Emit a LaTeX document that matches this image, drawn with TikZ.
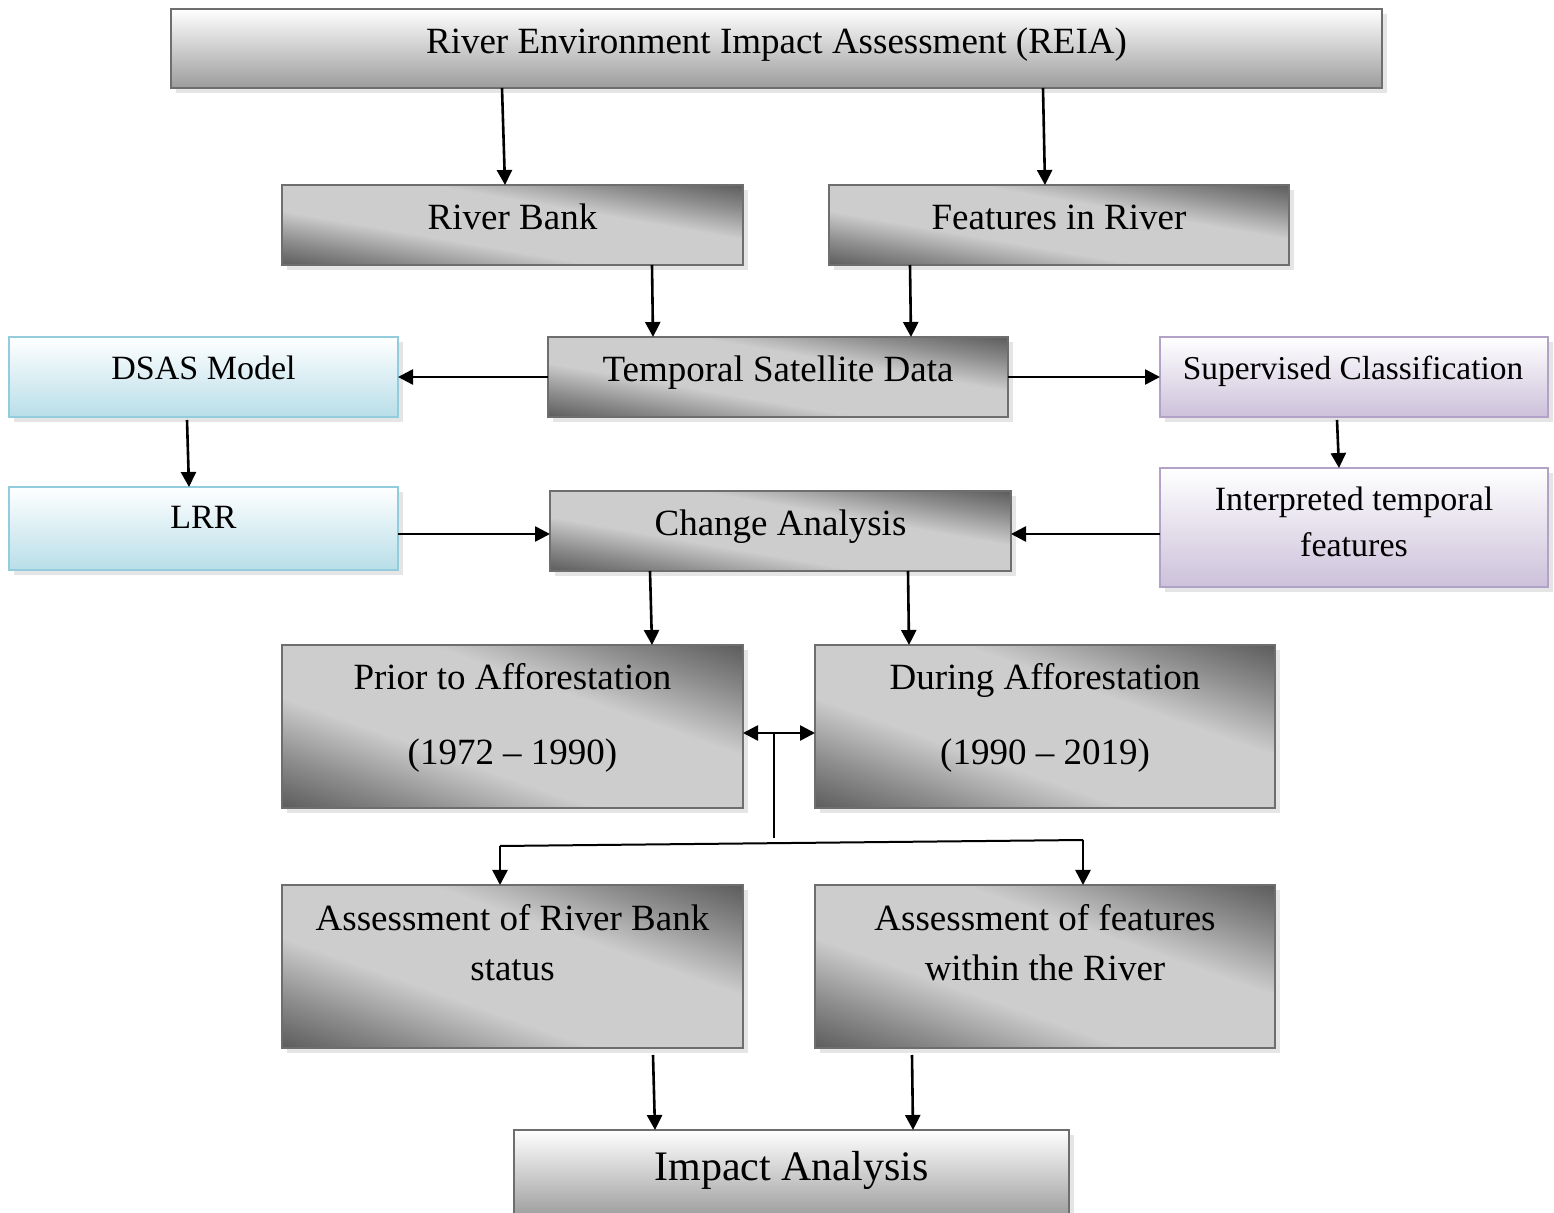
\documentclass[tikz,border=0pt]{standalone}
\usepackage{fontspec}
\setmainfont{Liberation Serif}
\usetikzlibrary{arrows.meta,shadows,calc}
\definecolor{gdark}{HTML}{5C5C5C}
\definecolor{gmid}{HTML}{8E8E8E}
\definecolor{glight}{HTML}{CDCDCD}
\definecolor{gborder}{HTML}{6E6E6E}
\definecolor{lbottom}{HTML}{9C9C9C}
\definecolor{bborder}{HTML}{93CDDD}
\definecolor{bbottom}{HTML}{B8DEE8}
\definecolor{pborder}{HTML}{B3A2C7}
\definecolor{pbottom}{HTML}{CCC1DA}
\pgfdeclarehorizontalshading{diaggray}{100bp}{color(0bp)=(gdark); color(25bp)=(gdark); color(33bp)=(gmid); color(42bp)=(glight); color(58bp)=(glight); color(67bp)=(gmid); color(75bp)=(gdark); color(100bp)=(gdark)}
\tikzset{
  boxbase/.style={draw, line width=1.3pt, inner sep=0pt, outer sep=0pt,
    drop shadow={shadow xshift=2.5pt, shadow yshift=-2.5pt, fill=black!20}},
  graybase/.style={boxbase, draw=gborder, fill=glight},
  lightbox/.style={boxbase, draw=gborder, top color=white, bottom color=lbottom},
  bluebox/.style={boxbase, draw=bborder, top color=white, bottom color=bbottom},
  purplebox/.style={boxbase, draw=pborder, top color=white, bottom color=pbottom},
  txt/.style={inner sep=0pt, anchor=base, align=center, font=\fontsize{18.5}{25}\selectfont},
  sidetxt/.style={txt, font=\fontsize{17}{23}\selectfont},
  bigtxt/.style={txt, font=\fontsize{21}{25}\selectfont},
  arr/.style={line width=1.3pt, -{Triangle[length=7.5pt,width=7.5pt]}},
  darr/.style={line width=1.3pt, {Triangle[length=7.5pt,width=7.5pt]}-{Triangle[length=7.5pt,width=7.5pt]}},
  plainline/.style={line width=1pt}
}
\newcommand\boxat[6]{%
  \node[#1, minimum width={(#4-#2)*0.5pt}, minimum height={(#5-#3)*0.5pt}] (#6) at ({(#2+#4)/2},{(#3+#5)/2}) {};}
\newcommand\grayboxat[5]{%
  \boxat{graybase}{#1}{#2}{#3}{#4}{#5}%
  \pgfmathsetmacro\bW{(#3-#1)/100}%
  \pgfmathsetmacro\bH{(#4-#2)/100}%
  \pgfmathsetmacro\bN{sqrt(\bW*\bW+\bH*\bH)}%
  \pgfmathsetmacro\bL{100*\bW*\bH/\bN}%
  \pgfmathsetmacro\bT{50*\bN+4}%
  \pgfmathsetmacro\bPhi{atan(\bW/\bH)}%
  \begin{scope}
    \clip (#5.south west) rectangle (#5.north east);
    \begin{scope}[transform canvas={shift={(#5.center)}, rotate=\bPhi}]
      \shade[shading=diaggray] (-\bL,-\bT) rectangle (\bL,\bT);
    \end{scope}
  \end{scope}
  \draw[gborder, line width=1.3pt] (#5.south west) rectangle (#5.north east);}
\begin{document}
\begin{tikzpicture}[x=0.5pt,y=-0.5pt]
\useasboundingbox (0,0) rectangle (1554,1213);
% boxes
\boxat{lightbox}{171}{9}{1382}{88}{reia}
\grayboxat{282}{185}{743}{265}{rb}
\grayboxat{829}{185}{1289}{265}{fr}
\grayboxat{548}{337}{1008}{417}{tsd}
\boxat{bluebox}{9}{337}{398}{417}{dsas}
\boxat{purplebox}{1160}{337}{1548}{417}{sc}
\boxat{bluebox}{9}{487}{398}{570}{lrr}
\grayboxat{550}{491}{1011}{571}{ca}
\boxat{purplebox}{1160}{468}{1548}{587}{itf}
\grayboxat{282}{645}{743}{808}{pa}
\grayboxat{815}{645}{1275}{808}{da}
\grayboxat{282}{885}{743}{1048}{arb}
\grayboxat{815}{885}{1275}{1048}{af}
\boxat{lightbox}{514}{1130}{1069}{1218}{ia}
% texts (anchor base = baseline of last line)
\node[txt] (reia-t) at (776.5,54) {River Environment Impact Assessment (REIA)};
\node[txt] (rb-t) at (512.5,230) {River Bank};
\node[txt] (fr-t) at (1059,230) {Features in River};
\node[txt] (tsd-t) at (778,382) {Temporal Satellite Data};
\node[sidetxt] (dsas-t) at (203.5,380) {DSAS Model};
\node[sidetxt, font=\fontsize{16.7}{23}\selectfont] (sc-t) at (1353,380) {Supervised Classification};
\node[sidetxt] (lrr-t) at (203.5,529) {LRR};
\node[txt] (ca-t) at (780.5,536) {Change Analysis};
\node[sidetxt] (itf-t) at (1354,557) {Interpreted temporal\\features};
\node[txt, font=\fontsize{18.5}{37.5}\selectfont] (pa-t) at (512.5,765) {Prior to Afforestation\\(1972 -- 1990)};
\node[txt, font=\fontsize{18.5}{37.5}\selectfont] (da-t) at (1045,765) {During Afforestation\\(1990 -- 2019)};
\node[txt] (arb-t) at (512.5,980) {Assessment of River Bank\\status};
\node[txt] (af-t) at (1045,980) {Assessment of features\\within the River};
\node[bigtxt] (ia-t) at (791.5,1180) {Impact Analysis};
% connectors
\draw[arr] (502,0 |- reia.south) -- (505,0 |- rb.north);
\draw[arr] (1043,0 |- reia.south) -- (1045,0 |- fr.north);
\draw[arr] (652,0 |- rb.south) -- (653,0 |- tsd.north);
\draw[arr] (910,0 |- fr.south) -- (911,0 |- tsd.north);
\draw[arr] (tsd.west) -- (dsas.east);
\draw[arr] (tsd.east) -- (sc.west);
\draw[arr] ([yshift=-1.5pt]187,0 |- dsas.south) -- (189,0 |- lrr.north);
\draw[arr] ([yshift=-1.5pt]1337,0 |- sc.south) -- (1339,0 |- itf.north);
\draw[arr] (lrr.east |- 0,534) -- (ca.west |- 0,534);
\draw[arr] (itf.west |- 0,534) -- (ca.east |- 0,534);
\draw[arr] (650,0 |- ca.south) -- (652,0 |- pa.north);
\draw[arr] (908,0 |- ca.south) -- (909,0 |- da.north);
\coordinate (v1) at (774,733);
\coordinate (v2) at (774,838);
\coordinate (h1) at (500,846);
\coordinate (h2) at (1083,840);
\draw[darr] (pa.east |- v1) -- (da.west |- v1);
\draw[plainline] (v1) -- (v2);
\draw[plainline] (h1) -- (h2);
\draw[arr] (h1) -- (h1 |- arb.north);
\draw[arr] (h2) -- (h2 |- af.north);
\draw[arr] ([yshift=-3.5pt]653,0 |- arb.south) -- (655,0 |- ia.north);
\draw[arr] ([yshift=-3.5pt]912,0 |- af.south) -- (913,0 |- ia.north);
\end{tikzpicture}
\end{document}
